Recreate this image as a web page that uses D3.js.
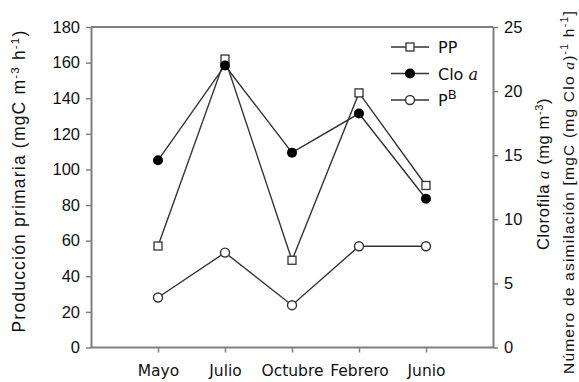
<!DOCTYPE html>
<html><head><meta charset="utf-8">
<script src="https://cdn.jsdelivr.net/npm/d3@7"></script>
<style>body{margin:0;background:#fff}svg{display:block}</style>
</head><body>
<svg id="c" width="579" height="382"></svg>
<script>
const categories = ["Mayo","Julio","Octubre","Febrero","Junio"];
const ppValues = [57, 162, 49, 143, 91];        // left axis
const cloValues = [14.6, 22.0, 15.2, 18.25, 11.6]; // right axis
const pbValues = [3.9, 7.4, 3.3, 7.9, 7.9];     // right axis
const leftTicks = [0,20,40,60,80,100,120,140,160,180];
const rightTicks = [0,5,10,15,20,25];

const svg = d3.select("#c");
const L = 91, R = 493, T = 27, B = 347.5;
const x = d3.scalePoint().domain(categories).range([L, R]).padding(1);
const yL = d3.scaleLinear().domain([0,180]).range([B, T]);
const yR = d3.scaleLinear().domain([0,25]).range([B, T]);

const axisColor = "#7f7f7f", lineColor = "#333";
const numFont = "Liberation Sans, Arial, sans-serif";
const vFont = "DejaVu Sans, Verdana, sans-serif";

svg.append("line").attr("x1",L).attr("x2",R).attr("y1",T).attr("y2",T).attr("stroke",axisColor).attr("stroke-width",2);

const gL = svg.append("g").attr("transform",`translate(${L},0)`)
  .call(d3.axisLeft(yL).tickValues(leftTicks).tickSize(5).tickSizeOuter(0).tickPadding(6));
const gR = svg.append("g").attr("transform",`translate(${R},0)`)
  .call(d3.axisRight(yR).tickValues(rightTicks).tickSize(5).tickSizeOuter(0).tickPadding(6));
const gB = svg.append("g").attr("transform",`translate(0,${B})`)
  .call(d3.axisBottom(x).tickSize(5).tickSizeOuter(0).tickPadding(12));
[gL,gR,gB].forEach(g=>{
  g.select(".domain").attr("stroke",axisColor).attr("stroke-width",2);
  g.selectAll(".tick line").attr("stroke",axisColor).attr("stroke-width",1.5);
  g.selectAll("text").attr("fill","#111");
});
gL.selectAll("text").attr("font-family",numFont).attr("font-size",16.5);
gR.selectAll("text").attr("font-family",numFont).attr("font-size",16.5);
gB.selectAll("text").attr("font-family",vFont).attr("font-size",15.5);
gB.select(".domain").attr("d",`M${L},0H${R}`);

function drawLine(vals, ys){
  svg.append("path").datum(vals)
    .attr("fill","none").attr("stroke",lineColor).attr("stroke-width",1.4)
    .attr("d", d3.line().x((d,i)=>x(categories[i])).y(d=>ys(d)));
}
drawLine(ppValues, yL);
drawLine(cloValues, yR);
drawLine(pbValues, yR);

svg.selectAll(".pp").data(ppValues).enter().append("rect")
  .attr("x",(d,i)=>x(categories[i])-4).attr("y",d=>yL(d)-4).attr("width",8).attr("height",8)
  .attr("fill","#fff").attr("stroke",lineColor).attr("stroke-width",1.3);
svg.selectAll(".clo").data(cloValues).enter().append("circle")
  .attr("cx",(d,i)=>x(categories[i])).attr("cy",d=>yR(d)).attr("r",5)
  .attr("fill","#000");
svg.selectAll(".pb").data(pbValues).enter().append("circle")
  .attr("cx",(d,i)=>x(categories[i])).attr("cy",d=>yR(d)).attr("r",4.5)
  .attr("fill","#fff").attr("stroke",lineColor).attr("stroke-width",1.4);

// legend
const leg = svg.append("g");
const legItems = ["PP","Clo","PB"];
legItems.forEach((k,i)=>{
  const yy = 47 + i*26.5;
  leg.append("line").attr("x1",391).attr("x2",429).attr("y1",yy).attr("y2",yy).attr("stroke",lineColor).attr("stroke-width",1.4);
  if(k==="PP") leg.append("rect").attr("x",406).attr("y",yy-4).attr("width",8).attr("height",8).attr("fill","#fff").attr("stroke",lineColor).attr("stroke-width",1.3);
  if(k==="Clo") leg.append("circle").attr("cx",410).attr("cy",yy).attr("r",5).attr("fill","#000");
  if(k==="PB") leg.append("circle").attr("cx",410).attr("cy",yy).attr("r",4.5).attr("fill","#fff").attr("stroke",lineColor).attr("stroke-width",1.4);
  const t = leg.append("text").attr("x",438).attr("y",yy+6).attr("font-family",vFont).attr("font-size",16).attr("fill","#111");
  if(k==="PP") t.text("PP");
  if(k==="Clo"){ t.append("tspan").text("Clo "); t.append("tspan").attr("font-family","DejaVu Serif, serif").attr("font-style","italic").text("a"); }
  if(k==="PB"){ t.append("tspan").text("P"); t.append("tspan").attr("dy",-7).attr("font-size",13).text("B"); }
});

function fit(t, target){
  const len = t.node().getComputedTextLength();
  const n = t.text().length;
  t.attr("letter-spacing", ((target - len)/n).toFixed(3));
}

const lt = svg.append("text").attr("transform","translate(25,181) rotate(-90)").attr("text-anchor","middle")
  .attr("font-family",numFont).attr("font-size",17.5).attr("fill","#111");
lt.append("tspan").text("Producción primaria (mgC m");
lt.append("tspan").attr("dy",-6).attr("font-size",11.5).text("-3");
lt.append("tspan").attr("dy",6).text(" h");
lt.append("tspan").attr("dy",-6).attr("font-size",11.5).text("-1");
lt.append("tspan").attr("dy",6).text(")");
fit(lt, 303);

const rt1 = svg.append("text").attr("transform","translate(549,174) rotate(-90)").attr("text-anchor","middle")
  .attr("font-family",numFont).attr("font-size",16.5).attr("fill","#111");
rt1.append("tspan").text("Clorofila ");
rt1.append("tspan").attr("font-family","Liberation Serif, serif").attr("font-style","italic").text("a");
rt1.append("tspan").text(" (mg m");
rt1.append("tspan").attr("dy",-6).attr("font-size",11).text("-3");
rt1.append("tspan").attr("dy",6).text(")");
fit(rt1, 152);

const rt2 = svg.append("text").attr("transform","translate(574,192) rotate(-90)").attr("text-anchor","middle")
  .attr("font-family",numFont).attr("font-size",15.5).attr("fill","#111");
rt2.append("tspan").text("Número de asimilación [mgC (mg Clo ");
rt2.append("tspan").attr("font-family","Liberation Serif, serif").attr("font-style","italic").text("a");
rt2.append("tspan").text(")");
rt2.append("tspan").attr("dy",-6).attr("font-size",10.5).text("-1");
rt2.append("tspan").attr("dy",6).text(" h");
rt2.append("tspan").attr("dy",-6).attr("font-size",10.5).text("-1");
rt2.append("tspan").attr("dy",6).text("]");
fit(rt2, 364);
</script>
</body></html>
